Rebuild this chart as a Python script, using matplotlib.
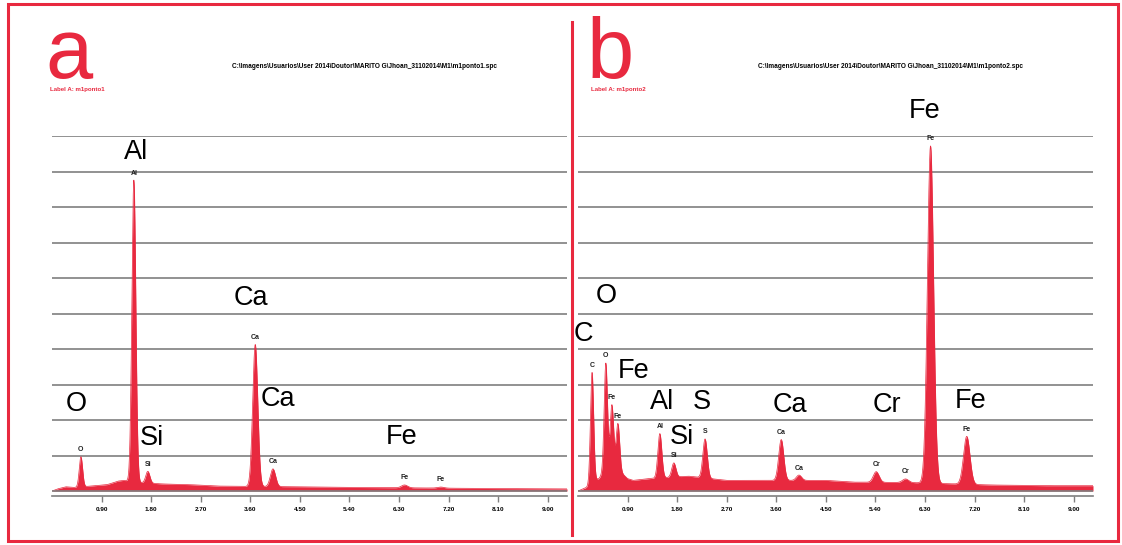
import numpy as np
import matplotlib
matplotlib.use("Agg")
import matplotlib.pyplot as plt
from matplotlib.patches import Rectangle
from matplotlib.lines import Line2D

RED = '#e8293f'
GRID = '#7f7f7f'
SMALL = ['Liberation Sans', 'DejaVu Sans']
BIG = ['Liberation Sans', 'DejaVu Sans']

# eixo de energia (keV) e rotulos dos ticks
tick_pos = [0.9, 1.8, 2.7, 3.6, 4.5, 5.4, 6.3, 7.2, 8.1, 9.0]
tick_lbl = ['0.90', '1.80', '2.70', '3.60', '4.50', '5.40', '6.30', '7.20', '8.10', '9.00']

# ponto 1: picos (energia keV, altura acima do fundo, em divisoes da grade)
a_elem = ['O', 'Al', 'Si', 'Ca', 'Ca', 'Fe', 'Fe']
a_energy = [0.525, 1.486, 1.740, 3.690, 4.012, 6.400, 7.058]
a_height = [0.85, 8.5, 0.33, 4.0, 0.5, 0.08, 0.03]
a_bg_e = [0.0, 0.1, 0.25, 0.4, 0.7, 1.0, 1.2, 1.3, 1.6, 2.0, 2.5, 3.0, 3.5, 4.5, 5.5, 6.5, 8.0, 9.35]
a_bg_v = [0.0, 0.06, 0.12, 0.1, 0.14, 0.18, 0.28, 0.3, 0.24, 0.2, 0.18, 0.14, 0.13, 0.12, 0.1, 0.09, 0.07, 0.06]

# ponto 2
b_elem = ['C', 'O', 'Fe', 'Fe', 'Al', 'Si', 'S', 'Ca', 'Ca', 'Cr', 'Cr', 'Fe', 'Fe']
b_energy = [0.255, 0.505, 0.615, 0.725, 1.486, 1.740, 2.307, 3.690, 4.012, 5.414, 5.946, 6.400, 7.058]
b_height = [3.1, 3.0, 1.75, 1.3, 1.25, 0.4, 1.1, 1.15, 0.15, 0.3, 0.1, 9.5, 1.35]
b_bg_e = [0.0, 0.15, 0.3, 0.38, 0.5, 0.65, 0.8, 0.9, 1.0, 1.3, 2.0, 2.7, 3.0, 4.5, 5.0, 6.0, 7.5, 8.5, 9.35]
b_bg_v = [0.0, 0.1, 0.3, 0.35, 0.6, 0.7, 0.5, 0.35, 0.3, 0.35, 0.42, 0.3, 0.3, 0.3, 0.25, 0.24, 0.17, 0.15, 0.15]

# rotulos grandes (texto, x keV, y divisoes)
a_big = [('Al', 1.52, 9.55), ('Ca', 3.62, 5.44), ('O', 0.44, 2.45),
         ('Si', 1.81, 1.49), ('Ca', 4.10, 2.59), ('Fe', 6.35, 1.52)]
b_big = [('Fe', 6.30, 10.7), ('O', 0.51, 5.49), ('C', 0.09, 4.42), ('Fe', 1.01, 3.38),
         ('Al', 1.52, 2.51), ('S', 2.25, 2.51), ('Si', 1.88, 1.52), ('Ca', 3.84, 2.42),
         ('Cr', 5.60, 2.42), ('Fe', 7.12, 2.54)]

paths = [r'C:\Imagens\Usuarios\User 2014\Doutor\MARITO G\Jhoan_31102014\M1\m1ponto1.spc',
         r'C:\Imagens\Usuarios\User 2014\Doutor\MARITO G\Jhoan_31102014\M1\m1ponto2.spc']
labels = ['Label A: m1ponto1', 'Label A: m1ponto2']

E = np.linspace(0, 9.35, 3000)


def spectrum(energy, height, bg_e, bg_v):
    y = np.interp(E, bg_e, bg_v)
    for e0, h in zip(energy, height):
        sig = np.sqrt(0.004 + 0.0021 * e0) / 2.355
        y = y + h * np.exp(-0.5 * ((E - e0) / sig) ** 2)
    return y


fig = plt.figure(figsize=(11.22, 5.45), dpi=100)
W, H = 1122, 545

panels = [
    (52, 'a', 45, a_elem, a_energy, a_height, a_bg_e, a_bg_v, a_big),
    (578, 'b', 586, b_elem, b_energy, b_height, b_bg_e, b_bg_v, b_big),
]

for i, (x0, letter, lx, elem, en, hh, bge, bgv, big) in enumerate(panels):
    ax = fig.add_axes([x0 / W, (H - 496) / H, 515 / W, 360 / H])
    ax.set_xlim(0, 9.35)
    ax.set_ylim(-0.14, 10)
    y = spectrum(en, hh, bge, bgv)
    ax.fill_between(E, y, 0, color=RED, lw=0, zorder=2)
    ax.plot(E, y, color=RED, lw=0.5, zorder=2)
    for g in range(0, 11):
        ax.axhline(g, color=GRID, lw=1.2, zorder=1 if g else 3)
    for s in ['top', 'left', 'right']:
        ax.spines[s].set_visible(False)
    ax.spines['bottom'].set_color(GRID)
    ax.spines['bottom'].set_linewidth(1.2)
    ax.set_yticks([])
    ax.set_xticks(tick_pos)
    ax.set_xticklabels(tick_lbl, fontfamily=SMALL, fontweight='bold', fontsize=4.6)
    ax.tick_params(axis='x', length=4, width=1, color=GRID, pad=4)

    # rotulos pequenos sobre os picos
    for el, e0 in zip(elem, en):
        m = np.abs(E - e0) < 0.03
        top = y[m].max()
        ax.text(e0, top + 0.1, el, fontfamily=SMALL, fontweight='bold', fontsize=5,
                ha='center', va='bottom', color='#222222', zorder=4)
    for t, xx, yy in big:
        ax.text(xx, yy, t, fontfamily=BIG, fontsize=19.5, ha='center', va='center',
                color='black', clip_on=False, zorder=5)

    fig.text(lx / W, (H - 78) / H, letter, fontfamily=BIG, fontsize=61, color=RED,
             ha='left', va='baseline')
    fig.text((lx + 5) / W, (H - 89) / H, labels[i], fontfamily=SMALL, fontweight='bold',
             fontsize=4.4, color=RED, ha='left', va='center')
    fig.text((x0 + 180) / W, (H - 67) / H, paths[i], fontfamily=SMALL, fontweight='bold',
             fontsize=4.7, color='black', ha='left', va='center')

fig.add_artist(Rectangle((8 / W, 4 / H), 1110 / W, 537 / H, transform=fig.transFigure,
                         fill=False, edgecolor=RED, lw=2.2))
fig.add_artist(Line2D([571.5 / W, 571.5 / W], [10 / H, 523 / H], transform=fig.transFigure,
                      color=RED, lw=2.2))

fig.savefig('out.png', dpi=100)
